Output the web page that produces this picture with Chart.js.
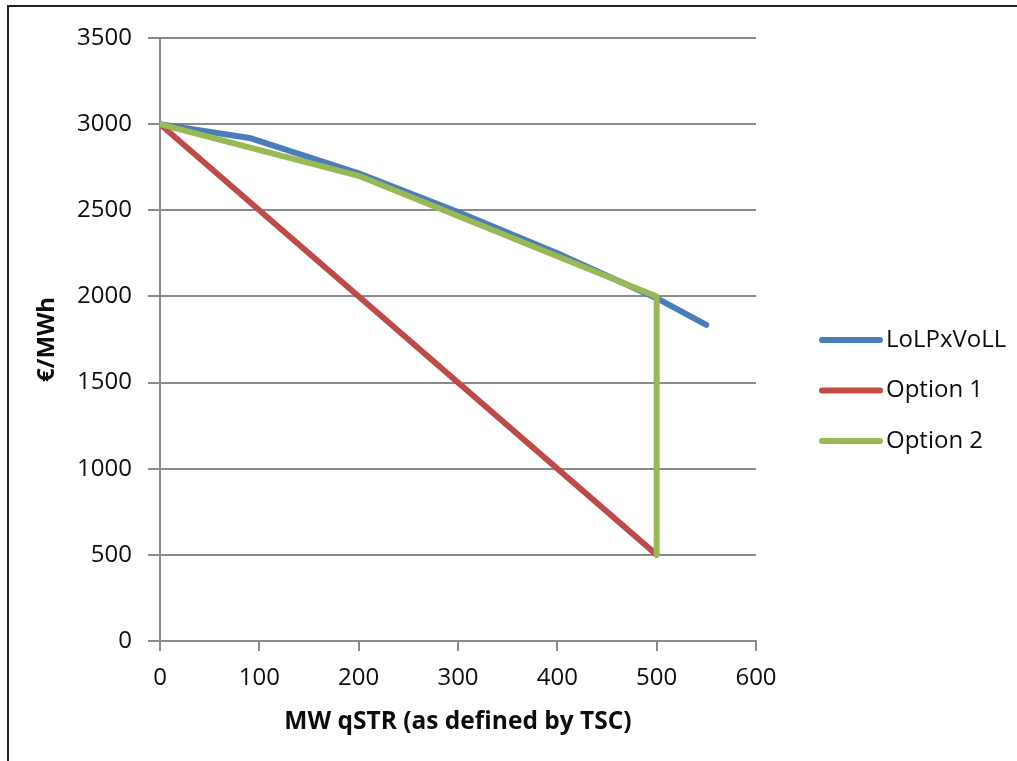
<!DOCTYPE html>
<html>
<head>
<meta charset="utf-8">
<script src="https://cdn.jsdelivr.net/npm/chart.js@4/dist/chart.umd.min.js"></script>
<style>
  html, body { margin: 0; padding: 0; background: #fff; }
  #wrap { position: relative; width: 1017px; height: 761px; }
  #frame {
    position: absolute; left: 7px; top: 5px; right: -4px; bottom: -4px;
    border: 2px solid #222; pointer-events: none;
  }
</style>
</head>
<body>
<div id="wrap">
  <canvas id="chart" width="1017" height="761"></canvas>
  <div id="frame"></div>
</div>
<script>
// данные
const lolpX = [0, 90, 200, 300, 400, 500, 550];
const lolpY = [3000, 2920, 2715, 2490, 2250, 1990, 1835];
const opt1X = [0, 500];
const opt1Y = [3000, 500];
const opt2X = [0, 200, 500, 500];
const opt2Y = [3000, 2700, 2000, 500];

const seriesNames = ['LoLPxVoLL', 'Option 1', 'Option 2'];
const seriesColors = ['#4A7EBB', '#BE4B48', '#98B954'];

const toPoints = (xs, ys) => xs.map((x, i) => ({ x: x, y: ys[i] }));

const gridColor = '#8a8a8a';
const textColor = '#0d0d0d';
const font = 'Open Sans';

function makeDataset(idx, xs, ys, order) {
    return {
        label: seriesNames[idx],
        data: toPoints(xs, ys),
        borderColor: seriesColors[idx],
        backgroundColor: seriesColors[idx],
        borderWidth: 6,
        borderCapStyle: 'round',
        borderJoinStyle: 'round',
        pointRadius: 0,
        tension: 0,
        order: order
    };
}

// легенда справа, как в Excel: линия + подпись
const sideLegend = {
    id: 'sideLegend',
    afterDraw(chart) {
        const c = chart.ctx;
        const x0 = 822, x1 = 880, top = 340, step = 50.5;
        c.save();
        c.font = `24px "${font}"`;
        c.textBaseline = 'middle';
        c.textAlign = 'left';
        chart.data.datasets.forEach((ds, i) => {
            const y = top + i * step;
            c.strokeStyle = ds.borderColor;
            c.lineWidth = 6;
            c.lineCap = 'round';
            c.beginPath();
            c.moveTo(x0, y);
            c.lineTo(x1, y);
            c.stroke();
            c.fillStyle = textColor;
            c.fillText(ds.label, x1 + 6, y);
        });
        c.restore();
    }
};

const ctx = document.getElementById('chart').getContext('2d');
new Chart(ctx, {
    type: 'line',
    data: {
        datasets: [
            makeDataset(0, lolpX, lolpY, 3),
            makeDataset(1, opt1X, opt1Y, 2),
            makeDataset(2, opt2X, opt2Y, 1)
        ]
    },
    options: {
        responsive: false,
        animation: false,
        layout: { padding: { top: 38, right: 261, left: 0, bottom: 0 } },
        scales: {
            x: {
                type: 'linear',
                min: 0,
                max: 600,
                afterFit: s => { s.height = 120; },
                ticks: {
                    stepSize: 100, color: textColor, padding: 13,
                    format: { useGrouping: false },
                    font: { family: font, size: 24 }
                },
                grid: { drawOnChartArea: false, drawTicks: true, tickLength: 10, color: gridColor, lineWidth: 2 },
                border: { color: gridColor, width: 2 },
                title: {
                    display: true,
                    text: 'MW qSTR (as defined by TSC)',
                    color: textColor,
                    font: { family: font, size: 24.5, weight: 'bold' },
                    padding: { top: 0, bottom: 24 }
                }
            },
            y: {
                min: 0,
                max: 3500,
                afterFit: s => { s.width = 160; },
                ticks: {
                    stepSize: 500, color: textColor, padding: 16,
                    format: { useGrouping: false },
                    font: { family: font, size: 24 }
                },
                grid: { color: gridColor, lineWidth: 2, tickLength: 12 },
                border: { color: gridColor, width: 2 },
                title: {
                    display: true,
                    text: '€/MWh',
                    color: textColor,
                    font: { family: font, size: 24, weight: 'bold' },
                    padding: { top: 33, bottom: 0 }
                }
            }
        },
        plugins: {
            tooltip: { enabled: false },
            legend: { display: false }
        }
    },
    plugins: [sideLegend]
});
</script>
</body>
</html>
